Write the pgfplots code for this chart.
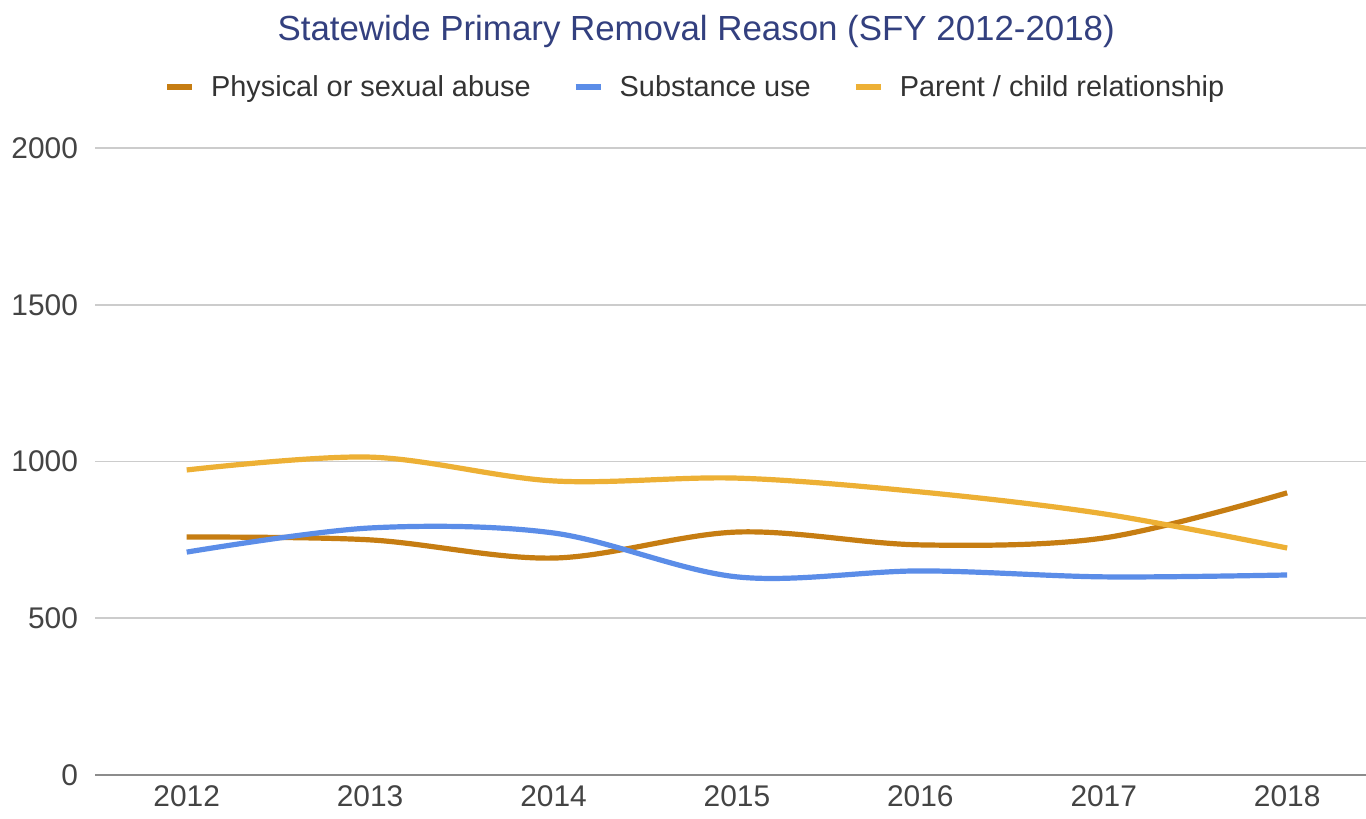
\documentclass[border=0pt]{standalone}
\usepackage{pgfplots}
\pgfplotsset{compat=1.18}
\usepackage{fontspec}
\setmainfont{Liberation Sans}
\definecolor{abuse}{HTML}{C67D12}
\definecolor{subst}{HTML}{5B8DE8}
\definecolor{parent}{HTML}{EDB035}
\definecolor{ttl}{HTML}{33407F}
\definecolor{tick}{HTML}{444444}
\begin{document}
\begin{tikzpicture}
\useasboundingbox[fill=white] (0,0) rectangle (683bp,409.5bp);
\begin{axis}[
    at={(47.5bp,22bp)}, anchor=south west,
    scale only axis,
    width=635.5bp, height=313.5bp,
    xmin=-0.5, xmax=6.43,
    ymin=0, ymax=2000,
    xtick={0,...,6},
    xticklabels={2012,2013,2014,2015,2016,2017,2018},
    ytick={0,500,1000,1500,2000},
    /pgf/number format/assume math mode=true,
    /pgf/number format/set thousands separator={},
    ymajorgrids,
    grid style={draw=black!20, line width=0.9bp},
    axis x line*=bottom, axis y line*=left,
    x axis line style={draw=black!45, line width=1.1bp, -},
    y axis line style={draw=none},
    major tick length=0pt,
    tick label style={font=\fontsize{15}{17}\selectfont, text=tick},
    xticklabel style={yshift=-2bp},
    yticklabel style={xshift=-5bp},
    clip=false,
    title={\fontsize{17.5}{20}\selectfont Statewide Primary Removal Reason (SFY 2012-2018)},
    title style={text=ttl, at={(0.473,1.0)}, anchor=center, yshift=52.5bp},
    legend columns=3,
    legend style={at={(0.473,1.097)}, anchor=center, draw=none, fill=none,
        font=\fontsize{14.5}{16}\selectfont, text=black!80,
        /tikz/every odd column/.append style={column sep=6bp},
        /tikz/every even column/.append style={column sep=19bp}},
    legend image code/.code={\draw[#1, line width=3bp] (0bp,0bp) -- (12.5bp,0bp);},
    every axis plot/.append style={line width=2.6bp, smooth, tension=0.55},
]
\addplot[abuse] coordinates {(0,759) (1,750) (2,692) (3,775) (4,734) (5,756) (6,900)};
\addlegendentry{Physical or sexual abuse}
\addplot[subst] coordinates {(0,711) (1,788) (2,772) (3,632) (4,651) (5,632) (6,638)};
\addlegendentry{Substance use}
\addplot[parent] coordinates {(0,973) (1,1014) (2,938) (3,947) (4,903) (5,833) (6,724)};
\addlegendentry{Parent / child relationship}
\end{axis}
\end{tikzpicture}
\end{document}
